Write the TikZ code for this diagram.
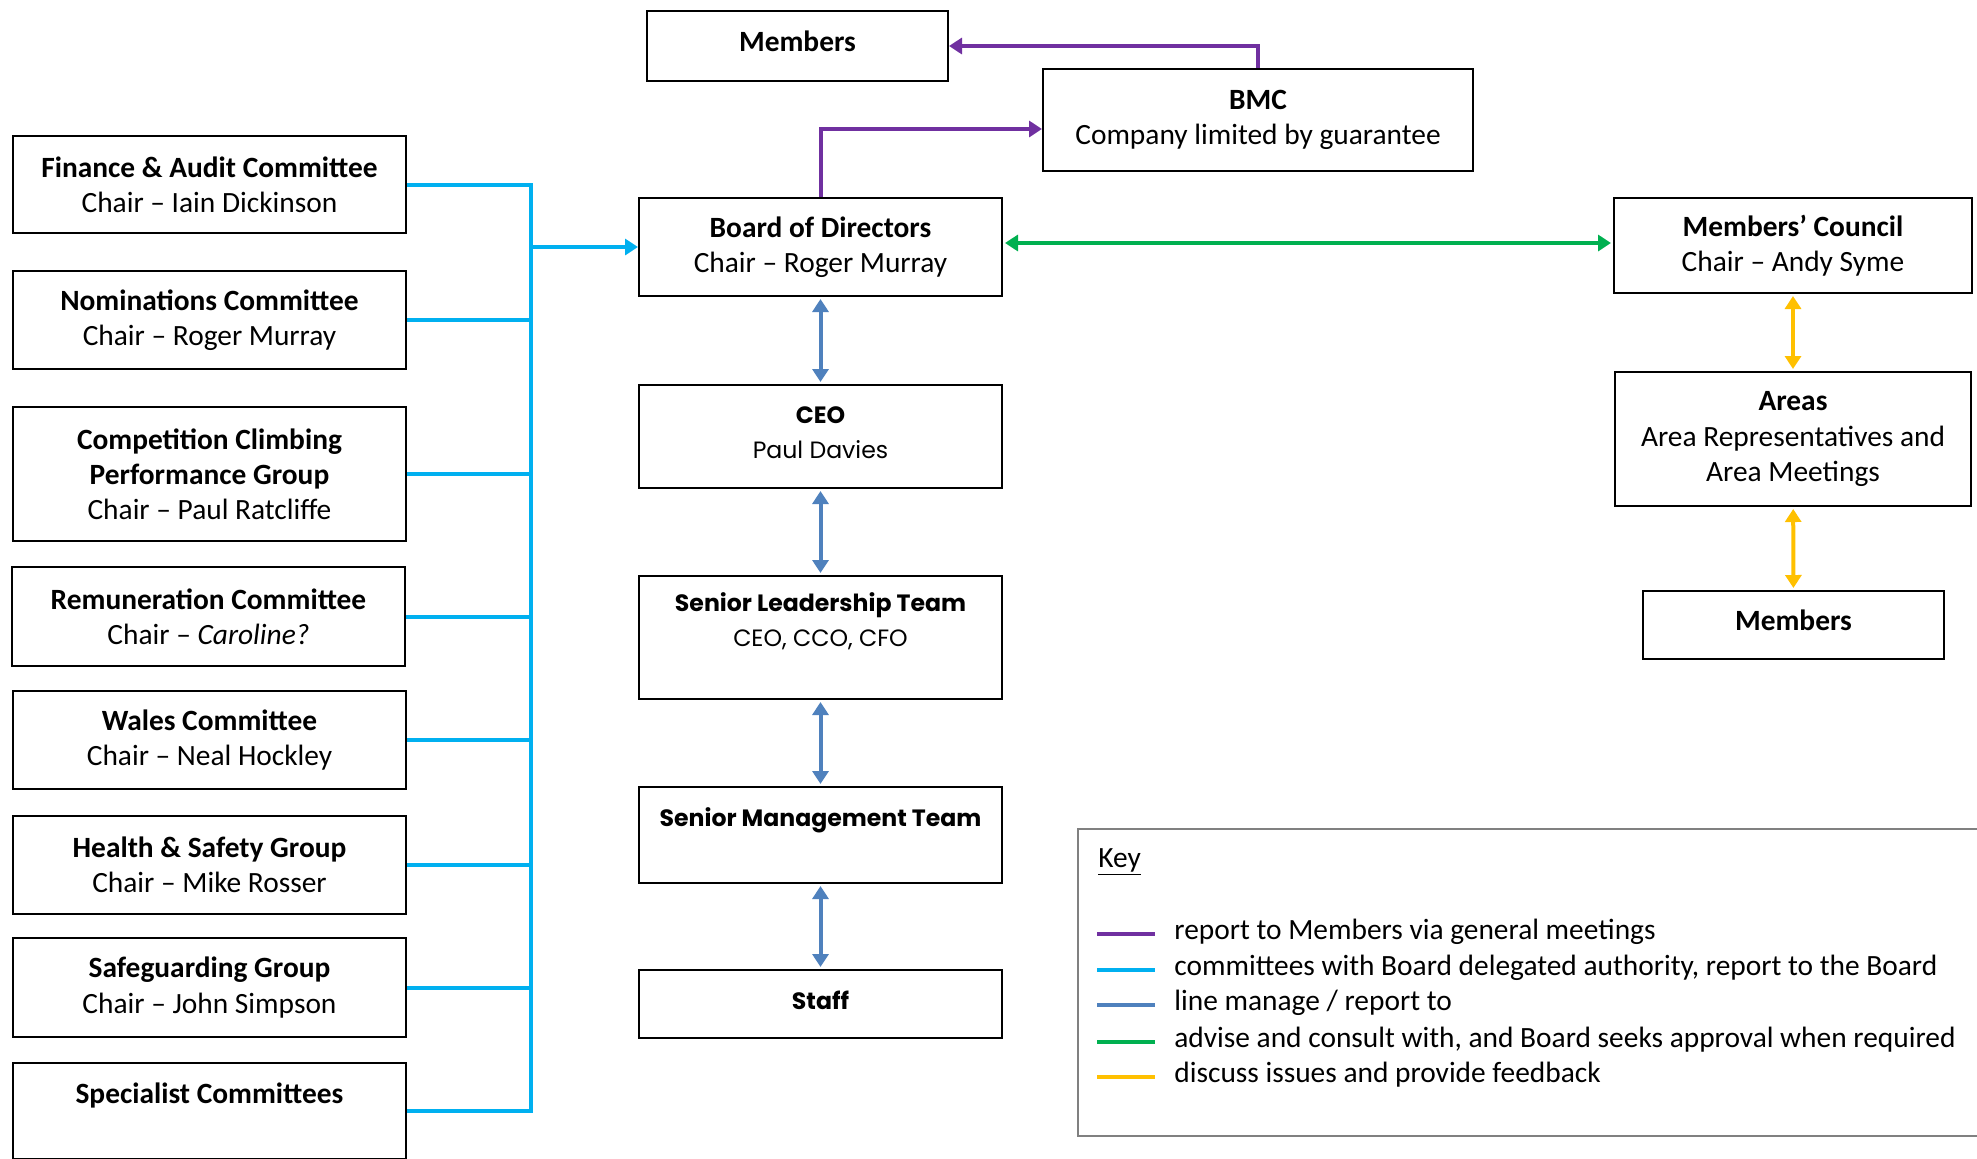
\documentclass[tikz,border=0pt]{standalone}
\usepackage{fontspec}
\setmainfont{Carlito}
\newfontfamily\gothicfont{Poppins}
\usetikzlibrary{arrows.meta}

\definecolor{rptpurple}{HTML}{7030A0}
\definecolor{cttblue}{HTML}{00B0F0}
\definecolor{linblue}{HTML}{4F81BD}
\definecolor{advgreen}{HTML}{00B050}
\definecolor{fbyellow}{HTML}{FFC000}
\definecolor{keygrey}{HTML}{808080}

\begin{document}
\begin{tikzpicture}[x=0.5pt,y=-0.5pt]
        % one unit is one pixel of the chart, y runs downwards
        \tikzstyle{block} = [draw,rectangle,line width=1pt,align=center,inner sep=0pt,font=\fontsize{14.7}{17.6}\selectfont];
        \tikzstyle{gblock} = [block,font=\gothicfont\fontsize{11.8}{17.6}\selectfont];
        \tikzstyle{oneline} = [text depth=5pt];
        \tikzstyle{keytext} = [anchor=west,inner sep=0pt,font=\fontsize{14.7}{17.6}\selectfont];
        \tikzstyle{link} = [line width=2pt,-{Triangle[length=6.5pt,width=8pt]}];
        \tikzstyle{twoway} = [line width=2pt,{Triangle[length=6.5pt,width=8pt]}-{Triangle[length=6.5pt,width=8pt]},shorten <=1pt,shorten >=1pt];

        \useasboundingbox (0,0) rectangle (1977,1158);

        % committees
        \node[block,minimum width=196.5pt,minimum height=48.5pt] (finance) at (209.5,184.5) {\textbf{Finance \& Audit Committee}\\Chair – Iain Dickinson};
        \node[block,minimum width=196.5pt,minimum height=49pt] (nominations) at (209.5,320) {\textbf{Nominations Committee}\\Chair – Roger Murray};
        \node[block,minimum width=196.5pt,minimum height=67pt] (competition) at (209.5,474) {\textbf{Competition Climbing}\\\textbf{Performance Group}\\Chair – Paul Ratcliffe};
        \node[block,minimum width=196.5pt,minimum height=49.5pt] (remuneration) at (208.5,616.5) {\textbf{Remuneration Committee}\\Chair – \textit{Caroline?}};
        \node[block,minimum width=196.5pt,minimum height=49pt] (wales) at (209.5,740) {\textbf{Wales Committee}\\Chair – Neal Hockley};
        \node[block,minimum width=196.5pt,minimum height=49pt] (health) at (209.5,865) {\textbf{Health \& Safety Group}\\Chair – Mike Rosser};
        \node[block,minimum width=196.5pt,minimum height=49.5pt] (safeguarding) at (209.5,987.5) {\textbf{Safeguarding Group}\\Chair – John Simpson};
        \node[block,minimum width=196.5pt,minimum height=48pt] (specialist) at (209.5,1111) {\textbf{Specialist Committees}\\~};

        % middle column
        \node[block,oneline,minimum width=150.5pt,minimum height=35pt] (members_top) at (797.5,46) {\textbf{Members}};
        \node[block,minimum width=215pt,minimum height=51pt] (bmc) at (1258,120) {\textbf{BMC}\\Company limited by guarantee};
        \node[block,minimum width=181.5pt,minimum height=49pt] (board) at (820.5,247) {\textbf{Board of Directors}\\Chair – Roger Murray};
        \node[gblock,text depth=3.8pt,minimum width=181.5pt,minimum height=51.5pt] (ceo) at (820.5,436.5) {\textbf{CEO}\\Paul Davies};
        \node[gblock,minimum width=181.5pt,minimum height=61.5pt] (slt) at (820.5,637.5) {\textbf{Senior Leadership Team}\\CEO, CCO, CFO\\~};
        \node[gblock,minimum width=181.5pt,minimum height=48pt] (smt) at (820.5,835) {\textbf{Senior Management Team}\\~};
        \node[gblock,text depth=4pt,minimum width=181.5pt,minimum height=34pt] (staff) at (820.5,1004) {\textbf{Staff}};

        % right column
        \node[block,minimum width=179pt,minimum height=47.5pt] (council) at (1793,245.5) {\textbf{Members’ Council}\\Chair – Andy Syme};
        \node[block,minimum width=178pt,minimum height=67pt] (areas) at (1793,439) {\textbf{Areas}\\Area Representatives and\\Area Meetings};
        \node[block,oneline,minimum width=150.5pt,minimum height=34pt] (members_right) at (1793.5,625) {\textbf{Members}};

        % committees report to the board
        \coordinate (bus_end) at (531,1111);
        \draw[cttblue,line width=2pt] (finance.east) -| (bus_end) -- (specialist.east);
        \foreach \c in {nominations,competition,remuneration,wales,health,safeguarding}
            \draw[cttblue,line width=2pt] (\c.east) -- (\c.east -| bus_end);
        \draw[cttblue,link] (board.west -| bus_end) -- (board.west);

        \draw[rptpurple,link] (board.north) |- ([yshift=-4.5pt]bmc.west);
        \draw[rptpurple,link] (bmc.north) |- (members_top.east);
        \draw[advgreen,twoway] ([yshift=2pt]board.east) -- ([yshift=2pt]board.east -| council.west);

        \draw[linblue,twoway] (board) -- (ceo);
        \draw[linblue,twoway] (ceo) -- (slt);
        \draw[linblue,twoway] (slt) -- (smt);
        \draw[linblue,twoway] (smt) -- (staff);

        \draw[fbyellow,twoway] (council) -- (areas);
        \draw[fbyellow,twoway] (areas) -- (members_right);

        % key
        \node[draw=keygrey,line width=1.2pt,anchor=north west,minimum width=459pt,minimum height=153.5pt] (keybox) at (1077,828) {};
        \node[keytext] (key_title) at (1098,862) {\underline{Key}};
        \node[keytext] (key_purple) at (1174,932) {report to Members via general meetings};
        \node[keytext] (key_cyan) at (1174,968) {committees with Board delegated authority, report to the Board};
        \node[keytext] (key_steel) at (1174,1003) {line manage / report to};
        \node[keytext] (key_green) at (1174,1040) {advise and consult with, and Board seeks approval when required};
        \node[keytext] (key_yellow) at (1174,1075) {discuss issues and provide feedback};
        \foreach \k/\col in {key_purple/rptpurple,key_cyan/cttblue,key_steel/linblue,key_green/advgreen,key_yellow/fbyellow}
            \draw[\col,line width=2pt] ([xshift=-38.5pt,yshift=-1pt]\k.west) -- ++(58,0);

    \end{tikzpicture}
\end{document}
